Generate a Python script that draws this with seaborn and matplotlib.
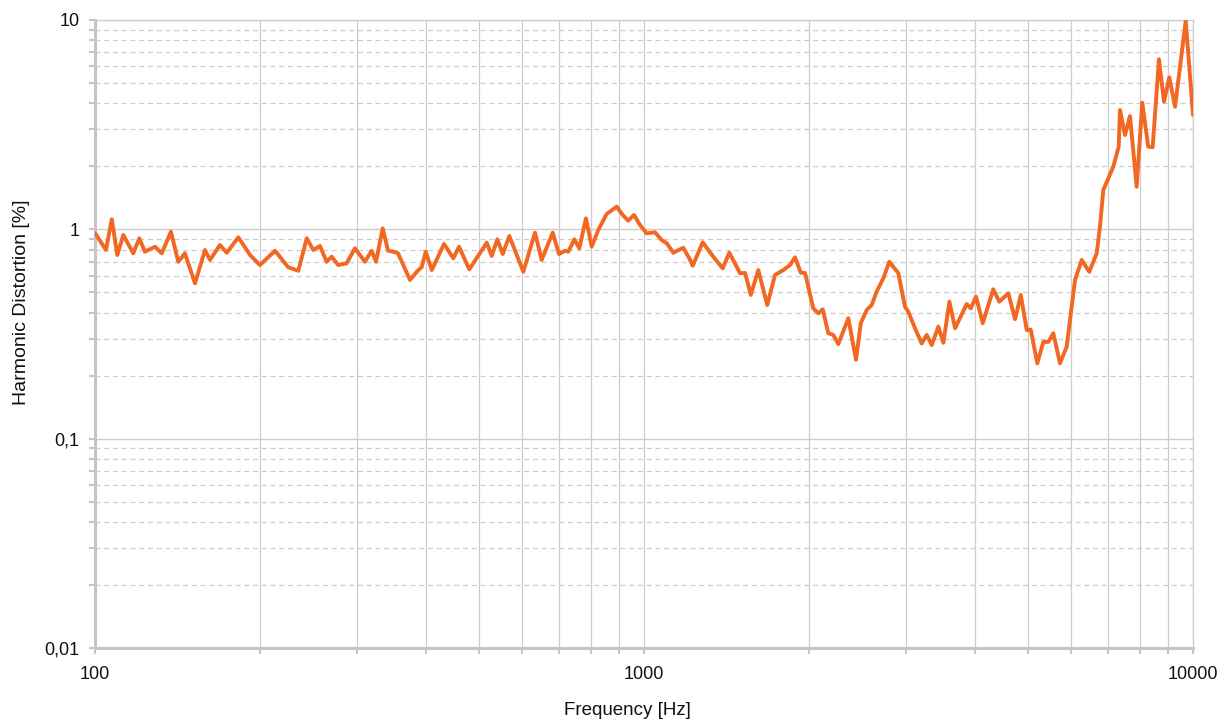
"""Harmonic distortion vs. frequency (log-log)."""

import matplotlib
import matplotlib.pyplot as plt
import numpy as np
import pandas as pd
import seaborn as sns
from matplotlib.ticker import LogLocator, NullFormatter

matplotlib.use("Agg")

# Values
FREQ_HZ = [
    100, 104.7, 107.3, 109.8, 112.6, 117.4, 120.4, 123.3, 128.6, 132.3,
    137.5, 141.8, 145.8, 152.1, 158.6, 162.0, 168.9, 173.8, 182.4, 191.6,
    199.7, 212.8, 224.9, 234.6, 243.0, 249.8, 256.9, 264.2, 269.8, 277.4,
    287.3, 297.5, 310.2, 319.1, 325.0, 334.2, 341.8, 349.4, 356.4, 374.8,
    385.5, 393.7, 400.4, 410.6, 432.3, 449.5, 460.3, 480.6, 517.1, 528.0,
    540.6, 553.0, 568.5, 602.8, 633.1, 651.1, 681.8, 700.1, 717.9, 728.0,
    746.5, 762.3, 784.0, 803.0, 825.5, 855.1, 891.8, 914.5, 936.2, 959.0,
    983.4, 1011, 1047, 1077, 1100, 1131, 1179, 1209, 1227, 1279,
    1337, 1391, 1430, 1496, 1528, 1565, 1615, 1677, 1732, 1794,
    1845, 1884, 1930, 1965, 2034, 2078, 2116, 2166, 2212, 2259,
    2356, 2433, 2482, 2545, 2599, 2653, 2729, 2798, 2906, 2988,
    3030, 3116, 3205, 3273, 3343, 3437, 3510, 3600, 3687, 3871,
    3937, 4025, 4140, 4327, 4437, 4609, 4741, 4856, 4979, 5063,
    5205, 5338, 5451, 5566, 5724, 5887, 6097, 6270, 6473, 6677,
    6769, 6865, 7158, 7323, 7362, 7518, 7677, 7896, 8084, 8289,
    8444, 8670, 8854, 9053, 9275, 9470, 9699, 10000,
]
THD_PCT = [
    0.96, 0.797, 1.117, 0.754, 0.940, 0.768, 0.906, 0.782, 0.826, 0.768,
    0.974, 0.700, 0.768, 0.552, 0.797, 0.714, 0.842, 0.773, 0.916, 0.754,
    0.675, 0.790, 0.659, 0.634, 0.906, 0.797, 0.833, 0.700, 0.740, 0.675,
    0.688, 0.812, 0.700, 0.790, 0.700, 1.011, 0.790, 0.782, 0.768, 0.573,
    0.627, 0.661, 0.782, 0.639, 0.851, 0.727, 0.826, 0.644, 0.863, 0.746,
    0.896, 0.762, 0.929, 0.627, 0.964, 0.714, 0.964, 0.762, 0.790, 0.782,
    0.896, 0.812, 1.129, 0.826, 0.993, 1.184, 1.283, 1.171, 1.100, 1.171,
    1.049, 0.957, 0.968, 0.889, 0.858, 0.773, 0.817, 0.727, 0.670, 0.867,
    0.740, 0.651, 0.773, 0.617, 0.619, 0.486, 0.639, 0.435, 0.605, 0.639,
    0.675, 0.735, 0.621, 0.619, 0.419, 0.397, 0.415, 0.319, 0.313, 0.283,
    0.376, 0.238, 0.356, 0.412, 0.435, 0.504, 0.584, 0.700, 0.617, 0.427,
    0.404, 0.337, 0.285, 0.313, 0.280, 0.343, 0.287, 0.451, 0.337, 0.440,
    0.419, 0.477, 0.356, 0.517, 0.451, 0.495, 0.372, 0.486, 0.330, 0.332,
    0.229, 0.290, 0.290, 0.319, 0.229, 0.275, 0.573, 0.714, 0.627, 0.768,
    1.029, 1.541, 1.992, 2.481, 3.716, 2.822, 3.478, 1.598, 4.026, 2.481,
    2.47, 6.49, 4.07, 5.32, 3.85, 5.98, 9.92, 3.52,
]

Y_TICKS = [0.01, 0.1, 1, 10]
Y_TICK_LABELS = ["0,01", "0,1", "1", "10"]
X_TICKS = [100, 1000, 10000]
X_TICK_LABELS = ["100", "1000", "10000"]

LINE_COLOR = "#F26722"
GRID_COLOR = "#CDCDCD"
AXIS_COLOR = "#C2C5CA"


def main() -> None:
    sns.set_theme(style="white")
    plt.rcParams["font.family"] = ["Liberation Sans", "DejaVu Sans"]

    df = pd.DataFrame({"freq": FREQ_HZ, "thd": THD_PCT})

    fig = plt.figure(figsize=(12.29, 7.2), dpi=100)
    ax = fig.add_axes([95 / 1229, 72 / 720, 1098 / 1229, 628 / 720])

    sns.lineplot(
        data=df,
        x="freq",
        y="thd",
        ax=ax,
        color=LINE_COLOR,
        linewidth=2.8,
        solid_joinstyle="round",
        solid_capstyle="round",
        zorder=5,
    )

    ax.set_xscale("log")
    ax.set_yscale("log")
    ax.set_xlim(100, 10000)
    ax.set_ylim(0.01, 10)

    ax.set_xticks(X_TICKS, labels=X_TICK_LABELS)
    ax.set_yticks(Y_TICKS, labels=Y_TICK_LABELS)
    ax.xaxis.set_minor_locator(LogLocator(base=10, subs=np.arange(2, 10)))
    ax.yaxis.set_minor_locator(LogLocator(base=10, subs=np.arange(2, 10)))
    ax.xaxis.set_minor_formatter(NullFormatter())
    ax.yaxis.set_minor_formatter(NullFormatter())

    # Grid: vertical lines solid, horizontal minor lines dashed
    ax.xaxis.grid(True, which="both", color=GRID_COLOR, linestyle="-", linewidth=0.9)
    ax.yaxis.grid(True, which="major", color=GRID_COLOR, linestyle="-", linewidth=1.0)
    ax.yaxis.grid(
        True, which="minor", color=GRID_COLOR, linestyle=(0, (4, 3)), linewidth=0.9
    )
    ax.set_axisbelow(True)

    for side in ["left", "bottom"]:
        ax.spines[side].set_color(AXIS_COLOR)
        ax.spines[side].set_linewidth(2.2)
    for side in ["top", "right"]:
        ax.spines[side].set_color(GRID_COLOR)
        ax.spines[side].set_linewidth(0.9)

    ax.tick_params(
        axis="both", which="both", direction="out", color=AXIS_COLOR,
        length=4, width=1.5, labelsize=13, labelcolor="#111111",
    )
    ax.tick_params(axis="y", which="both", pad=7)
    ax.tick_params(axis="x", which="both", pad=9)
    ax.tick_params(left=True, bottom=True, which="both")

    ax.set_xlabel("Frequency [Hz]", fontsize=13.5, color="#111111")
    ax.set_ylabel("Harmonic Distortion [%]", fontsize=14, color="#111111")
    ax.xaxis.set_label_coords(0.4845, -0.086)
    ax.yaxis.set_label_coords(-0.059, 0.551)

    fig.savefig("out.png", dpi=100)
    plt.close(fig)


if __name__ == "__main__":
    main()
